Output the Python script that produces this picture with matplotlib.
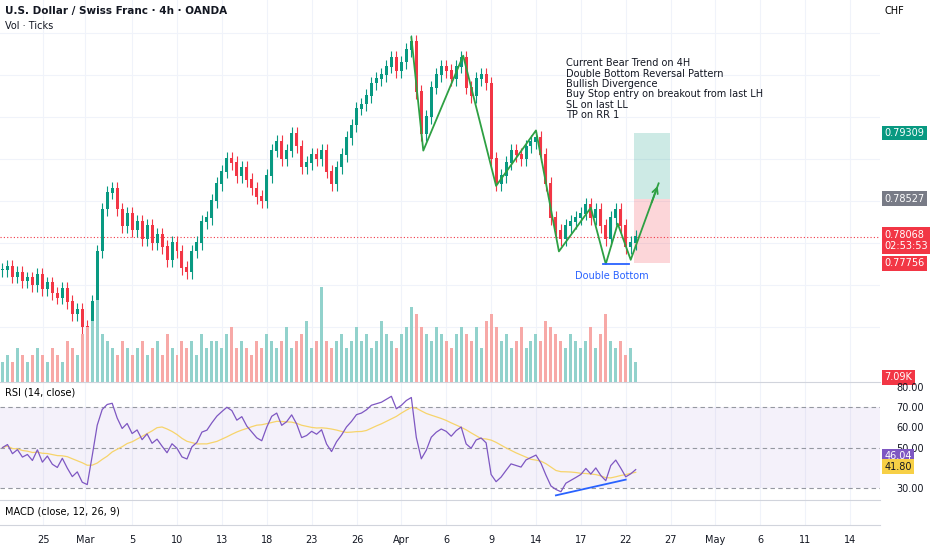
import numpy as np
import matplotlib.pyplot as plt

closes = [.7768,.7772,.7760,.7765,.7755,.7758,.7750,.7762,
          .7745,.7752,.7740,.7735,.7745,.7730,.7715,.7720,.7700,
          .7695,.7730,.7790,.7840,.7860,
          .7865,.7840,.7820,.7835,.7815,.7825,.7805,
          .7820,.7800,.7810,.7795,.7780,.7800,.7790,.7770,
          .7765,.7790,.7800,.7825,.7830,.7850,
          .7870,.7885,.7900,.7895,.7880,.7890,.7875,
          .7865,.7855,.7850,.7880,.7910,
          .7920,.7900,.7910,.7930,.7915,.7890,
          .7895,.7905,.7900,.7910,.7885,.7870,
          .7890,.7905,.7925,.7940,.7960,
          .7965,.7975,.7990,.7995,.8000,.8010,.8020,.8005,
          .8015,.8030,.8040,
          .7980,.7930,
          .7950,.7985,.8000,.8010,
          .8005,.7995,.8010,.8020,
          .7985,.7975,.7995,.8000,.7990,
          .7900,.7870,
          .7880,.7895,.7910,.7905,.7900,.7915,.7920,.7925,
          .7905,.7870,.7830,.7815,
          .7805,.7820,.7825,.7830,
          .7835,.7845,.7830,.7840,
          .7820,.7805,.7830,
          .7840,.7820,
          .7795,.7800,.7807]
volume = [3,4,3,5,4,3,4,5, 4,3,5,4,3,6,5,4,7, 8,9,12,7,6,
          5,4,6,5,4,5,6, 4,5,6,4,7,5,4,6, 5,6,4,7,5,6,
          6,5,7,8,5,6,5, 4,6,5,7,6, 5,6,8,5,6,7,
          9,5,6,14,6,5, 6,7,5,6,8, 6,7,5,6,9,7,6,5,
          7,8,11, 10,8, 7,6,8,7, 6,5,7,8, 7,6,8,5,9,
          10,8, 6,7,5,6,8,5,6,7, 6,9,8,7, 6,5,7,6, 5,6,8,5,
          7,10,6, 5,6, 4,5,3]
date_ticks = [8.2,16.6,26,35,44,53,62,71.2,80,89,98,107,116,125,134,143,152,161,170]
date_labels = ["25","Mar","5","10","13","18","23","26","Apr","6","9","14","17","22","27","May","6","11","14"]
# green pattern line (bar index, price)
zz_x = [82,84.4,92.4,99,107,111.6,118,121,123.4,126,131.6]
zz_y = [.8045,.7910,.8023,.7868,.7934,.7790,.7842,.7775,.7823,.7780,.7871]
notes = ["Current Bear Trend on 4H","Double Bottom Reversal Pattern","Bullish Divergence",
         "Buy Stop entry on breakout from last LH","SL on last LL","TP on RR 1"]
tp, entry, sl, last = 0.79309, 0.78527, 0.77756, 0.78068

up, dn = "#089981", "#f23645"
c = np.array(closes)
o = np.r_[c[0], c[:-1]]
x = np.arange(len(c))
hi = np.maximum(o, c) + 0.0008
lo = np.minimum(o, c) - 0.0008
col = np.where(c >= o, up, dn)

fig = plt.figure(figsize=(9.32, 5.5), dpi=100)
W = 880/932
ax = fig.add_axes([0, 168/550, W, 382/550])
ar = fig.add_axes([0, 50/550, W, 118/550])
am = fig.add_axes([0, 25/550, W, 25/550])
for a in (ax, ar, am):
    a.set_xlim(-0.5, 176)
    a.tick_params(axis="x", length=0, labelbottom=False)
    a.yaxis.tick_right()
    a.tick_params(axis="y", length=0, labelsize=7, colors="#131722", pad=12)
    for s in a.spines.values():
        s.set_visible(False)
    for t in date_ticks:
        a.axvline(t, color="#f0f3fa", lw=0.8, zorder=0)
for a in (ar, am):
    a.spines["top"].set_visible(True)
    a.spines["top"].set_color("#d1d4dc")
am.spines["bottom"].set_visible(True)
am.spines["bottom"].set_color("#d1d4dc")

# volume
av = ax.twinx()
av.set_ylim(0, 56)
av.bar(x, volume, width=0.6, color=np.where(c >= o, "#92d2cc", "#f7a9a7"))
av.axis("off")

ax.vlines(x, lo, hi, color=col, lw=0.8, zorder=3)
ax.bar(x, np.abs(c - o) + 0.0001, bottom=np.minimum(o, c), width=0.6, color=col, zorder=3)
ax.set_ylim(0.76345, 0.80893)
ax.set_yticks([0.805, 0.80, 0.795, 0.79, 0.775, 0.77])
ax.set_yticklabels(["0.80500", "0.80000", "0.79500", "0.79000", "0.77500", "0.77000"])
for p in [0.805, 0.80, 0.795, 0.79, 0.785, 0.78, 0.775, 0.77]:
    ax.axhline(p, color="#f0f3fa", lw=0.8, zorder=0)
ax.axhline(last, color=dn, lw=0.8, ls=(0, (1, 2)), zorder=2)

ax.plot(zz_x, zz_y, color="#2ea043", lw=1.3, zorder=4)
ax.annotate("", xy=(zz_x[-1], zz_y[-1]), xytext=(zz_x[-2] + 4, zz_y[-2] + 0.0065),
            arrowprops=dict(arrowstyle="->", color="#2ea043", lw=1.3))
ax.plot([120.4, 125.6], [0.7775, 0.7775], color="#2962ff", lw=1.3, zorder=4)
ax.text(122.2, 0.7767, "Double Bottom", color="#2962ff", fontsize=7, ha="center", va="top")
ax.fill_between([126.6, 133.8], entry, tp, color="#089981", alpha=0.2, lw=0)
ax.fill_between([126.6, 133.8], sl, entry, color="#f23645", alpha=0.2, lw=0)
ax.text(113, 0.8020, "\n".join(notes), fontsize=7, va="top", linespacing=1.05, color="#131722")

def tag(a, y, s, fc, tc="white"):
    a.text(1.005, y, s, transform=a.get_yaxis_transform(), fontsize=7, color=tc,
           va="center", ha="left", bbox=dict(boxstyle="square,pad=0.25", fc=fc, ec="none"))

tag(ax, tp, "0.79309", up)
tag(ax, entry, "0.78527", "#787b86")
tag(ax, last - 0.0004, "0.78068\n02:53:53", dn)
tag(ax, sl, "0.77756", dn)
tag(ax, 0.7640, "7.09K", dn)
ax.text(1.005, 0.985, "CHF", transform=ax.transAxes, fontsize=7, va="top")
ax.text(0.006, 0.985, "U.S. Dollar / Swiss Franc · 4h · OANDA", transform=ax.transAxes,
        fontsize=7.5, va="top", fontweight="bold", color="#131722")
ax.text(0.006, 0.945, "Vol · Ticks", transform=ax.transAxes, fontsize=7, va="top", color="#131722")

# RSI
d = np.diff(c)
g = np.r_[0, np.where(d > 0, d, 0)]
l = np.r_[0, np.where(d < 0, -d, 0)]
ag, al = np.zeros(len(c)), np.zeros(len(c))
ag[0], al[0] = 0.0005, 0.0005
for i in range(1, len(c)):
    ag[i] = (ag[i-1]*13 + g[i]) / 14
    al[i] = (al[i-1]*13 + l[i]) / 14
rsi = 100 - 100 / (1 + ag / al)
ma = np.array([rsi[max(0, i-13):i+1].mean() for i in range(len(c))])
ar.set_ylim(24, 82.5)
ar.axhspan(30, 70, color="#7e57c2", alpha=0.08, lw=0)
for lv in (70, 50, 30):
    ar.axhline(lv, color="#9598a1", lw=0.8, ls=(0, (4, 3)))
ar.plot(x, ma, color="#f7d46b", lw=0.9)
ar.plot(x, rsi, color="#7e57c2", lw=0.9)
ar.plot([111, 125], [26.3, 34.1], color="#2962ff", lw=1.3)
ar.set_yticks([80, 70, 60, 50, 30])
ar.set_yticklabels(["80.00", "70.00", "60.00", "50.00", "30.00"])
tag(ar, 45.6, "46.04", "#7e57c2")
tag(ar, 40.6, "41.80", "#f7d046", "#131722")
ar.text(0.006, 0.95, "RSI (14, close)", transform=ar.transAxes, fontsize=7, va="top")

am.set_yticks([])
am.text(0.006, 0.75, "MACD (close, 12, 26, 9)", transform=am.transAxes, fontsize=7, va="top")
for t, s in zip(date_ticks, date_labels):
    fig.text(t / 176.5 * W + 0.003 * W, 10/550, s, fontsize=7, ha="center", va="center", color="#131722")

fig.savefig("out.png", dpi=100, facecolor="white")
